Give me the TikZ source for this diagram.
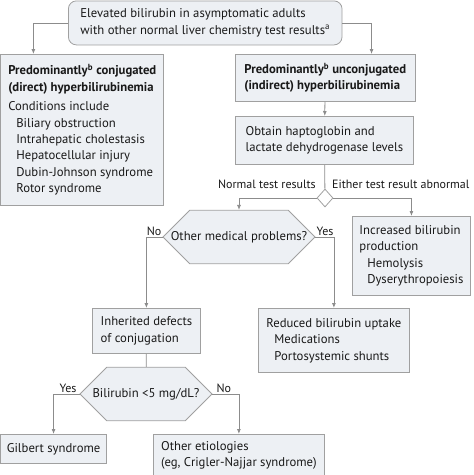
\documentclass[tikz,border=0pt]{standalone}
\usepackage{fontspec}
\setmainfont{PT Sans}
\usepackage{tikz}
\usetikzlibrary{positioning, calc}
\usetikzlibrary{arrows.meta}
\usetikzlibrary{shapes.misc, shapes.geometric}
\definecolor{boxfill}{RGB}{237,240,244}
\definecolor{boxline}{RGB}{160,160,160}
\definecolor{arrline}{RGB}{140,140,140}
\definecolor{inktext}{RGB}{25,25,25}
\newcommand{\ind}{\hspace*{8pt}}

\begin{document}
\begin{tikzpicture}[x=1pt, y=-1pt,
    every node/.style={text=inktext, font=\fontsize{12.7}{16.4}\selectfont},
    box/.style={draw=boxline, fill=boxfill, line width=0.8pt, anchor=north west,
        align=left, inner sep=0pt, inner xsep=7pt},
    hexbox/.style={draw=boxline, fill=boxfill, line width=0.8pt, chamfered rectangle,
        chamfered rectangle xsep=8pt, chamfered rectangle ysep=20.9pt, inner sep=0pt},
    arr/.style={draw=arrline, line width=0.8pt, -{Latex[length=5pt, width=4pt]}},
    con/.style={draw=arrline, line width=0.8pt},
    lbl/.style={inner sep=1pt, font=\fontsize{12}{14}\selectfont}]
    \useasboundingbox (0,0) rectangle (474,475);
    % top question
    \node[box, rounded corners=8pt, minimum width=265pt, minimum height=44pt, inner xsep=12pt] (top) at (68,0.5)
        {Elevated bilirubin in asymptomatic adults\\with other normal liver chemistry test results\textsuperscript{a}};
    % left branch
    \node[box, minimum width=163pt, minimum height=151pt] (conj) at (0.4,54)
        {\textbf{Predominantly\textsuperscript{b} conjugated}\\\textbf{(direct) hyperbilirubinemia}\\[3pt]
         Conditions include\\\ind Biliary obstruction\\\ind Intrahepatic cholestasis\\\ind Hepatocellular injury\\
         \ind Dubin-Johnson syndrome\\\ind Rotor syndrome};
    % right branch
    \node[box, minimum width=178pt, minimum height=47pt, inner xsep=9pt] (uncon) at (235,54)
        {\textbf{Predominantly\textsuperscript{b} unconjugated}\\\textbf{(indirect) hyperbilirubinemia}};
    \node[box, minimum width=178pt, minimum height=48pt, inner xsep=9pt] (obtain) at (235,116)
        {Obtain haptoglobin and\\lactate dehydrogenase levels};
    \node[diamond, draw=boxline, fill=white, line width=0.8pt, minimum width=16pt, minimum height=18pt, inner sep=0pt] (test) at (325,198) {};
    \node[lbl, anchor=east] (normal) at (317,184) {Normal test results};
    \node[lbl, anchor=west] (abnormal) at (331,184) {Either test result abnormal};
    \node[hexbox, minimum width=152pt, minimum height=42pt] (medical) at (239,237) {Other medical problems?};
    \node[box, minimum width=118pt, minimum height=79pt] (incr) at (352,216)
        {Increased bilirubin\\production\\\ind Hemolysis\\\ind Dyserythropoiesis};
    \node[box, minimum width=108pt, minimum height=45pt] (inher) at (92,308)
        {Inherited defects\\of conjugation};
    \node[box, minimum width=149pt, minimum height=64pt, inner xsep=8pt] (reduced) at (258,308)
        {Reduced bilirubin uptake\\\ind Medications\\\ind Portosystemic shunts};
    \node[hexbox, minimum width=132pt, minimum height=41pt] (level) at (146,394) {Bilirubin <5 mg/dL?};
    \node[box, minimum width=104pt, minimum height=29pt, inner xsep=6pt] (gilbert) at (0.4,434) {Gilbert syndrome};
    \node[box, minimum width=171pt, minimum height=42pt] (etiol) at (153,434)
        {Other etiologies\\(eg, Crigler-Najjar syndrome)};
    % yes / no labels
    \node[lbl, anchor=south east] (no1) at (medical.west) {No};
    \node[lbl, anchor=south west] (yes1) at (medical.east) {Yes};
    \node[lbl, anchor=south east] (yes2) at ([xshift=-2pt]level.west) {Yes};
    \node[lbl, anchor=south west] (no2) at ([xshift=3pt]level.east) {No};
    % connectors
    \draw[arr] (top.west) -| ([xshift=33pt]conj.north west);
    \draw[arr] (top.east) -| ([xshift=-44pt]uncon.north east);
    \draw[arr] (uncon) -- (obtain);
    \draw[con] (obtain) -- (test);
    \draw[arr] (test.west) -| (medical.north);
    \draw[arr] (test.east) -| (incr.north);
    \draw[arr] (medical.west) -| (inher.north);
    \draw[arr] (medical.east) -| (reduced.north);
    \draw[con] (inher) -- (level);
    \draw[arr] (level.west) -| (gilbert.north);
    \draw[arr] (level.east) -| (etiol.north);
\end{tikzpicture}
\end{document}
